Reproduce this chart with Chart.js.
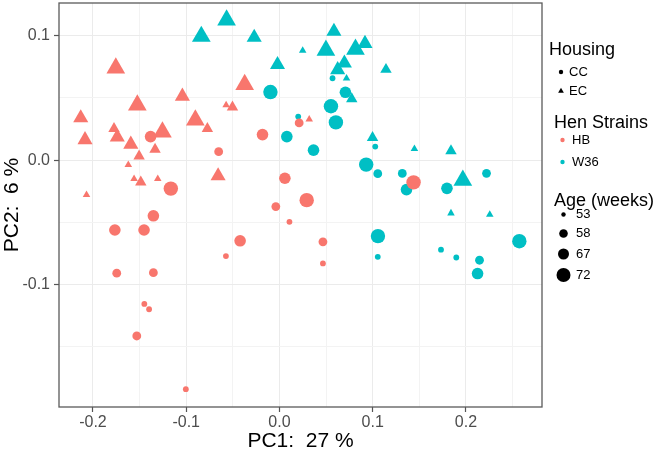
<!DOCTYPE html>
<html>
<head>
<meta charset="utf-8">
<script src="https://cdn.jsdelivr.net/npm/chart.js@4.4.1/dist/chart.umd.min.js"></script>
<style>
  html, body { margin: 0; padding: 0; background: #fff; }
</style>
</head>
<body>
<canvas id="pca" width="661" height="452"></canvas>
<script>
// HB hens, conventional cages (CC)
const hbCcPc1 = [-0.1382, -0.0652, -0.0182, 0.0211, 0.0058, 0.0292, -0.1165, -0.0039, 0.0107, -0.0574, -0.0422, 0.0466, 0.0466, -0.1352, -0.1765, -0.1452, -0.1745, -0.1352, -0.1530, -0.1449, -0.1398, -0.1004, 0.1438];
const hbCcPc2 = [0.0189, 0.0068, 0.0205, 0.0299, -0.0146, -0.0322, -0.0229, -0.0374, -0.0496, -0.0772, -0.0649, -0.0657, -0.0831, -0.0448, -0.0562, -0.0562, -0.0909, -0.0905, -0.1414, -0.1156, -0.1199, -0.1842, -0.0179];
const hbCcAge = [67, 58, 67, 58, 67, 72, 72, 58, 53, 53, 67, 58, 53, 67, 67, 67, 58, 58, 58, 53, 53, 53, 72];

// HB hens, enriched colonies (EC)
const hbEcPc1 = [-0.1755, -0.1524, -0.1041, -0.2131, -0.0902, -0.0773, -0.1255, -0.0373, -0.0504, -0.0572, -0.1774, -0.1739, -0.2085, -0.1594, -0.1505, -0.1334, -0.1621, -0.1559, -0.1487, -0.1305, -0.2069, -0.0658, 0.0319];
const hbEcPc2 = [0.0740, 0.0442, 0.0513, 0.0339, 0.0322, 0.0253, 0.0225, 0.0607, 0.0426, 0.0442, 0.0253, 0.0185, 0.0163, 0.0127, 0.0032, 0.0086, -0.0039, -0.0150, -0.0177, -0.0150, -0.0280, -0.0127, 0.0328];
const hbEcAge = [72, 72, 67, 67, 72, 58, 72, 72, 58, 53, 58, 67, 67, 67, 58, 58, 53, 53, 58, 53, 53, 67, 53];

// W36 hens, CC
const w36CcPc1 = [-0.0097, 0.0079, 0.0365, 0.0552, 0.0605, 0.0707, 0.0569, 0.0201, 0.0930, 0.1054, 0.1027, 0.1317, 0.1362, 0.1796, 0.2220, 0.1056, 0.1054, 0.1732, 0.1896, 0.2145, 0.2124, 0.2572];
const w36CcPc2 = [0.0547, 0.0189, 0.0080, 0.0433, 0.0303, 0.0545, 0.0658, 0.0350, -0.0036, -0.0109, 0.0109, -0.0107, -0.0237, -0.0227, -0.0106, -0.0611, -0.0778, -0.0720, -0.0783, -0.0805, -0.0912, -0.0652];
const w36CcAge = [72, 67, 67, 72, 72, 67, 53, 53, 72, 58, 53, 58, 67, 67, 58, 72, 53, 53, 53, 58, 67, 72];

// W36 hens, EC
const w36EcPc1 = [-0.0567, -0.0271, -0.0838, 0.0249, -0.0021, 0.0584, 0.0498, 0.0815, 0.0917, 0.0696, 0.0624, 0.0719, 0.1142, 0.0775, 0.0998, 0.1447, 0.1839, 0.1966, 0.1839, 0.2255];
const w36EcPc2 = [0.1125, 0.0986, 0.0994, 0.0881, 0.0767, 0.1034, 0.0883, 0.0891, 0.0937, 0.0780, 0.0726, 0.0657, 0.0728, 0.0492, 0.0181, 0.0091, 0.0074, -0.0163, -0.0427, -0.0438];
const w36EcAge = [72, 67, 72, 53, 67, 67, 72, 72, 67, 67, 67, 53, 58, 58, 58, 53, 58, 72, 53, 53];

const housingLevels = ['CC', 'EC'];
const strainLevels = ['HB', 'W36'];
const ageBreaks = [53, 58, 67, 72];

const HB = '#F8766D';
const W36 = '#00BFC4';
const FONT = '"Liberation Sans", Arial, sans-serif';

// point size by age (circle radius), triangles a bit bigger like ggplot
const ageRadius = { 53: 2.9, 58: 4.4, 67: 5.8, 72: 7.2 };
const TRI = 1.5;

function pts(xs, ys) {
  return xs.map((x, i) => ({ x: x, y: ys[i] }));
}

function makeSet(label, xs, ys, ages, color, shape) {
  const k = shape === 'triangle' ? TRI : 1;
  return {
    label: label,
    data: pts(xs, ys),
    pointStyle: shape,
    pointRadius: ages.map(a => ageRadius[a] * k),
    pointHoverRadius: ages.map(a => ageRadius[a] * k),
    backgroundColor: color,
    borderWidth: 0
  };
}

function isMajor(v) {
  return Math.abs(v * 10 - Math.round(v * 10)) < 1e-6;
}

const tickFont = { family: FONT, size: 16 };
const titleFont = { family: FONT, size: 21, lineHeight: 1 };

function gridColor(c) {
  if (!c.tick) return '#EBEBEB';
  return isMajor(c.tick.value) ? '#EBEBEB' : '#F3F3F3';
}
function tickColor(c) {
  if (!c.tick) return '#555';
  return isMajor(c.tick.value) ? '#555' : 'rgba(0,0,0,0)';
}

// fixed axis boxes so the panel sits where ggplot put it
function fixBox(s, size) {
  if (s.isHorizontal()) s.height = size; else s.width = size;
  s.paddingTop = 0;
  s.paddingBottom = 0;
  s.paddingLeft = 0;
  s.paddingRight = 0;
}

// panel border + ggplot style legend
const ggExtras = {
  id: 'ggExtras',
  afterDraw(chart) {
    const ctx = chart.ctx;
    const a = chart.chartArea;
    ctx.save();
    ctx.strokeStyle = '#5a5a5a';
    ctx.lineWidth = 1.3;
    ctx.strokeRect(a.left, a.top, a.right - a.left, a.bottom - a.top);

    ctx.fillStyle = '#000';
    ctx.textAlign = 'left';
    ctx.textBaseline = 'alphabetic';
    ctx.font = '18px ' + FONT;
    ctx.fillText('Housing', 549, 55);
    ctx.fillText('Hen Strains', 554, 128);
    ctx.fillText('Age (weeks)', 554, 206);

    ctx.font = '13px ' + FONT;
    ctx.textBaseline = 'middle';

    // housing
    const hy = [72, 91];
    housingLevels.forEach((lv, i) => {
      ctx.fillStyle = '#000';
      ctx.beginPath();
      if (i === 0) {
        ctx.arc(561, hy[i], 2.2, 0, Math.PI * 2);
      } else {
        const r = 3.3;
        ctx.moveTo(561, hy[i] - r);
        ctx.lineTo(561 + r * 0.866, hy[i] + r / 2);
        ctx.lineTo(561 - r * 0.866, hy[i] + r / 2);
        ctx.closePath();
      }
      ctx.fill();
      ctx.fillText(lv, 569, hy[i]);
    });

    // strains
    const sy = [140, 162];
    strainLevels.forEach((lv, i) => {
      ctx.fillStyle = i === 0 ? HB : W36;
      ctx.beginPath();
      ctx.arc(562.5, sy[i], 2.2, 0, Math.PI * 2);
      ctx.fill();
      ctx.fillStyle = '#000';
      ctx.fillText(lv, 572, sy[i]);
    });

    // ages
    const ay = [214.5, 233.5, 254, 275];
    ageBreaks.forEach((ag, i) => {
      ctx.fillStyle = '#000';
      ctx.beginPath();
      ctx.arc(563.5, ay[i], [2.2, 4.3, 5.5, 7][i], 0, Math.PI * 2);
      ctx.fill();
      ctx.fillText(String(ag), 576, ay[i]);
    });
    ctx.restore();
  }
};

new Chart(document.getElementById('pca'), {
  type: 'scatter',
  data: {
    datasets: [
      makeSet('HB CC', hbCcPc1, hbCcPc2, hbCcAge, HB, 'circle'),
      makeSet('HB EC', hbEcPc1, hbEcPc2, hbEcAge, HB, 'triangle'),
      makeSet('W36 CC', w36CcPc1, w36CcPc2, w36CcAge, W36, 'circle'),
      makeSet('W36 EC', w36EcPc1, w36EcPc2, w36EcAge, W36, 'triangle')
    ]
  },
  options: {
    responsive: false,
    animation: false,
    layout: { autoPadding: false, padding: { left: 0, top: 3, right: 119, bottom: 0 } },
    plugins: {
      legend: { display: false },
      tooltip: { enabled: false }
    },
    scales: {
      x: {
        type: 'linear',
        min: -0.2364,
        max: 0.2815,
        afterFit: s => fixBox(s, 45),
        border: { display: false },
        grid: { color: gridColor, tickColor: tickColor, tickLength: 5, tickWidth: 1.2 },
        ticks: {
          stepSize: 0.05,
          includeBounds: false,
          autoSkip: false,
          maxRotation: 0,
          padding: 1,
          color: '#4D4D4D',
          font: tickFont,
          callback: v => isMajor(v) ? v.toFixed(1) : ''
        },
        title: { display: true, text: 'PC1:  27 %', color: '#000', font: titleFont, padding: { top: 0, bottom: 0 } }
      },
      y: {
        type: 'linear',
        min: -0.1985,
        max: 0.1263,
        afterFit: s => fixBox(s, 59),
        border: { display: false },
        grid: { color: gridColor, tickColor: tickColor, tickLength: 5, tickWidth: 1.2 },
        ticks: {
          stepSize: 0.05,
          includeBounds: false,
          autoSkip: false,
          padding: 4,
          color: '#4D4D4D',
          font: tickFont,
          callback: v => isMajor(v) ? v.toFixed(1) : ''
        },
        title: { display: true, text: 'PC2:  6 %', color: '#000', font: titleFont, padding: { top: 2, bottom: 0 } }
      }
    }
  },
  plugins: [ggExtras]
});
</script>
</body>
</html>
